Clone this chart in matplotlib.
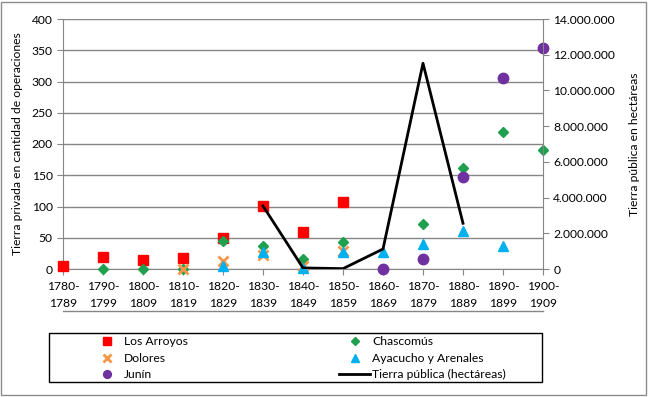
import numpy as np
import matplotlib
matplotlib.use('Agg')
import matplotlib.pyplot as plt
from matplotlib.lines import Line2D
from matplotlib.patches import Rectangle

plt.rcParams['font.family'] = ['Lato', 'DejaVu Sans']
plt.rcParams['font.size'] = 8.7

nan = np.nan
periods = ['1780-\n1789', '1790-\n1799', '1800-\n1809', '1810-\n1819', '1820-\n1829',
           '1830-\n1839', '1840-\n1849', '1850-\n1859', '1860-\n1869', '1870-\n1879',
           '1880-\n1889', '1890-\n1899', '1900-\n1909']

los_arroyos = [5, 20, 15, 17, 50, 101, 60, 108, nan, nan, nan, nan, nan]
chascomus = [nan, 0, 0, 0, 45, 37, 16, 44, nan, 72, 162, 219, 190]
dolores = [nan, nan, nan, 0, 13, 22, 5, 29, nan, nan, nan, nan, nan]
ayacucho = [nan, nan, nan, nan, 5, 27, 2, 28, 27, 40, 61, 37, nan]
junin = [nan, nan, nan, nan, nan, nan, nan, nan, 0, 16, 147, 306, 354]
tierra_publica = [nan, nan, nan, nan, nan, 3530000, 60000, 20000, 1120000, 11520000, 2560000, nan, nan]

left_ticks = [0, 50, 100, 150, 200, 250, 300, 350, 400]
right_ticks = [0, 2000000, 4000000, 6000000, 8000000, 10000000, 12000000, 14000000]

fig = plt.figure(figsize=(6.51, 3.97), dpi=100)
fig.patches.append(Rectangle((0.002, 0.005), 0.99, 0.99, transform=fig.transFigure,
                             fill=False, edgecolor='#8c8c8c', lw=1))

ax = fig.add_axes([63 / 651, 1 - 269 / 397, 480 / 651, 250 / 397])
x = np.arange(len(periods))

ax.plot(x, los_arroyos, 's', color='#ff0000', ms=7.5, label='Los Arroyos', zorder=3, clip_on=False)
ax.plot(x, chascomus, 'D', color='#1ea04e', ms=5, label='Chascomús', zorder=3, clip_on=False)
ax.plot(x, dolores, 'x', color='#f79646', ms=7, mew=2, label='Dolores', zorder=3, clip_on=False)
ax.plot(x, ayacucho, '^', color='#00b0f0', ms=7, label='Ayacucho y Arenales', zorder=3, clip_on=False)
ax.plot(x, junin, 'o', color='#7030a0', ms=7.5, label='Junín', zorder=3, clip_on=False)

ax.set_xlim(0, len(periods) - 1)
ax.set_ylim(0, 400)
ax.set_yticks(left_ticks)
ax.set_xticks(x)
ax.set_xticklabels(periods, linespacing=1.6)
ax.yaxis.grid(True, color='#868686', lw=1)
ax.set_axisbelow(True)
for s in ['top', 'right']:
    ax.spines[s].set_visible(False)
for s in ['left', 'bottom']:
    ax.spines[s].set_color('#868686')
ax.tick_params(colors='#868686', labelcolor='black', length=4)
ax.tick_params(axis='x', pad=5)
ax.set_ylabel('Tierra privada en cantidad de operaciones', labelpad=6)

ax2 = ax.twinx()
ax2.plot(x, tierra_publica, '-', color='black', lw=2, label='Tierra pública (hectáreas)', zorder=4)
ax2.set_ylim(0, 14000000)
ax2.set_yticks(right_ticks)
ax2.set_yticklabels([f'{v:,}'.replace(',', '.') for v in right_ticks])
for s in ['top', 'left', 'bottom']:
    ax2.spines[s].set_visible(False)
ax2.spines['right'].set_color('#868686')
ax2.tick_params(colors='#868686', labelcolor='black', length=4)
ax2.set_ylabel('Tierra pública en hectáreas', labelpad=10)

# line under category labels
ax.add_line(Line2D([0, 1], [-0.168, -0.168], transform=ax.transAxes, color='#868686',
                   lw=1, clip_on=False))

# legend
h, l = ax.get_legend_handles_labels()
h2, l2 = ax2.get_legend_handles_labels()
hd = dict(zip(l + l2, h + h2))
fig.patches.append(Rectangle((49 / 651, 1 - 382 / 397), 493 / 651, 49 / 397,
                             transform=fig.transFigure, fill=False, edgecolor='black', lw=1))
col1 = ['Los Arroyos', 'Dolores', 'Junín']
col2 = ['Chascomús', 'Ayacucho y Arenales', 'Tierra pública (hectáreas)']
for names, xpos in [(col1, 89 / 651), (col2, 337 / 651)]:
    fig.legend([hd[n] for n in names], names, loc='upper left',
               bbox_to_anchor=(xpos, 1 - 334 / 397), frameon=False, borderpad=0.2,
               handlelength=2.5, handletextpad=0.2, labelspacing=0.45, borderaxespad=0,
               markerscale=0.75)

fig.savefig('out.png', dpi=100)
